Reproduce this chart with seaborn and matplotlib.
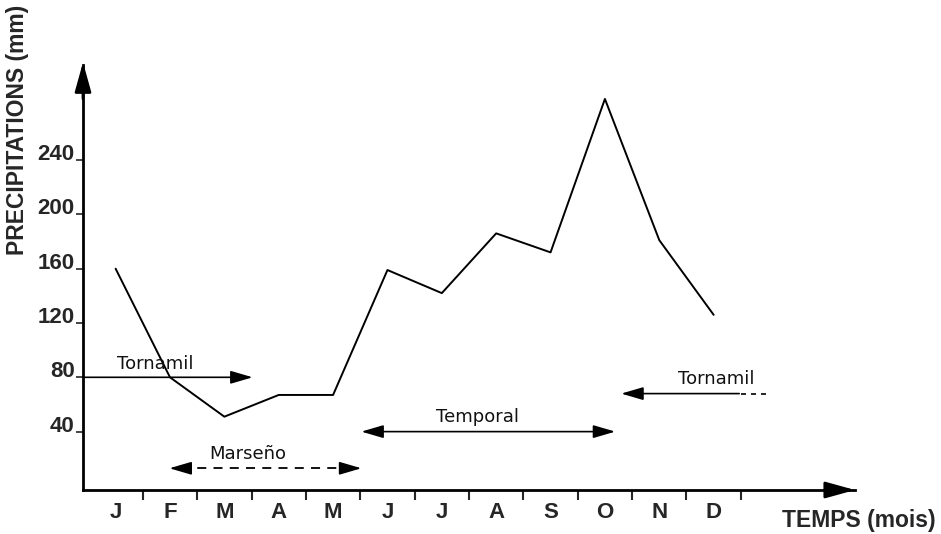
import matplotlib
matplotlib.use("Agg")
import matplotlib.pyplot as plt
import seaborn as sns
import numpy as np

months = ["J", "F", "M", "A", "M", "J", "J", "A", "S", "O", "N", "D"]
month_pos = list(range(12))
precip = [160, 80, 51, 67, 67, 159, 142, 186, 172, 285, 181, 126]
yticks = [40, 80, 120, 160, 200, 240]

sns.set_style("white")
plt.rcParams['font.family'] = ['Liberation Sans', 'DejaVu Sans']

W, H = 941, 534
fig = plt.figure(figsize=(W / 100, H / 100), dpi=100)

# axes box: origin px (83, 490), top px 65, right px 855
x0, x1 = -0.6, 13.6
y0, y1 = -3.0, 310.0
ax = fig.add_axes([83 / W, (H - 490) / H, (855 - 83) / W, (490 - 65) / H])
ax.set_xlim(x0, x1)
ax.set_ylim(y0, y1)

sns.lineplot(x=month_pos, y=precip, ax=ax, color="black", linewidth=1.4)

for s in ["top", "right"]:
    ax.spines[s].set_visible(False)
for s in ["left", "bottom"]:
    ax.spines[s].set_linewidth(2.0)
    ax.spines[s].set_color("black")

# axis arrow heads
axhead = dict(arrowstyle="-|>,head_length=0.9,head_width=0.25",
              color="black", lw=2, mutation_scale=20, shrinkA=0, shrinkB=0)
ax.annotate("", xy=(x1, y0), xytext=(x1 - 0.4, y0), annotation_clip=False, arrowprops=axhead)
ax.annotate("", xy=(x0, y1 + 2), xytext=(x0, y1 - 25), annotation_clip=False, arrowprops=axhead)

# y ticks
ax.set_yticks(yticks)
ax.set_yticklabels([str(v) for v in yticks], fontsize=16, fontweight="bold")
for lab in ax.get_yticklabels():
    lab.set_va("baseline")
ax.tick_params(axis="y", direction="out", length=5, width=1.2, pad=1, left=True)

# x ticks: boundaries as major ticks, month letters at centres
ax.set_xticks([p + 0.5 for p in month_pos])
ax.set_xticklabels([])
ax.set_xticks(month_pos, minor=True)
ax.set_xticklabels(months, minor=True, fontsize=16, fontweight="bold")
ax.tick_params(axis="x", which="major", direction="out", length=7, width=1.5, bottom=True)
ax.tick_params(axis="x", which="minor", length=0, pad=9)

# axis titles
fig.text(18 / W, 1 - 130 / H, "PRECIPITATIONS (mm)", rotation=90, ha="center", va="center",
         fontsize=16.5, fontweight="bold")
fig.text(936 / W, 1 - 521 / H, "TEMPS (mois)", ha="right", va="center",
         fontsize=16.5, fontweight="bold")

head = dict(arrowstyle="-|>,head_length=0.75,head_width=0.22", color="black",
            lw=1.2, mutation_scale=18, shrinkA=0, shrinkB=0)
afont = dict(fontsize=13, family=["DejaVu Sans"], color="#111111")

# Tornamil (left)
ax.annotate("", xy=(2.52, 80), xytext=(x0, 80), arrowprops=head, annotation_clip=False)
ax.text(0.72, 83, "Tornamil", ha="center", va="bottom", **afont)

# Marseño dashed double arrow
ax.plot([1.2, 4.3], [13, 13], color="black", lw=1.3, linestyle=(0, (5, 4)))
ax.annotate("", xy=(0.99, 13), xytext=(1.3, 13), arrowprops=head)
ax.annotate("", xy=(4.52, 13), xytext=(4.2, 13), arrowprops=head)
ax.text(2.43, 17, "Marseño", ha="center", va="bottom", **afont)

# Temporal double arrow
head2 = dict(head)
head2["arrowstyle"] = "<|-|>,head_length=0.75,head_width=0.22"
ax.annotate("", xy=(9.19, 40), xytext=(4.52, 40), arrowprops=head2)
ax.text(6.65, 44, "Temporal", ha="center", va="bottom", **afont)

# Tornamil (right)
ax.annotate("", xy=(9.30, 68), xytext=(11.47, 68), arrowprops=head)
ax.plot([11.5, 11.97], [68, 68], color="black", lw=1.2, linestyle=(0, (3, 3)))
ax.text(11.05, 72, "Tornamil", ha="center", va="bottom", **afont)

fig.savefig("out.png", dpi=100, facecolor="white")
